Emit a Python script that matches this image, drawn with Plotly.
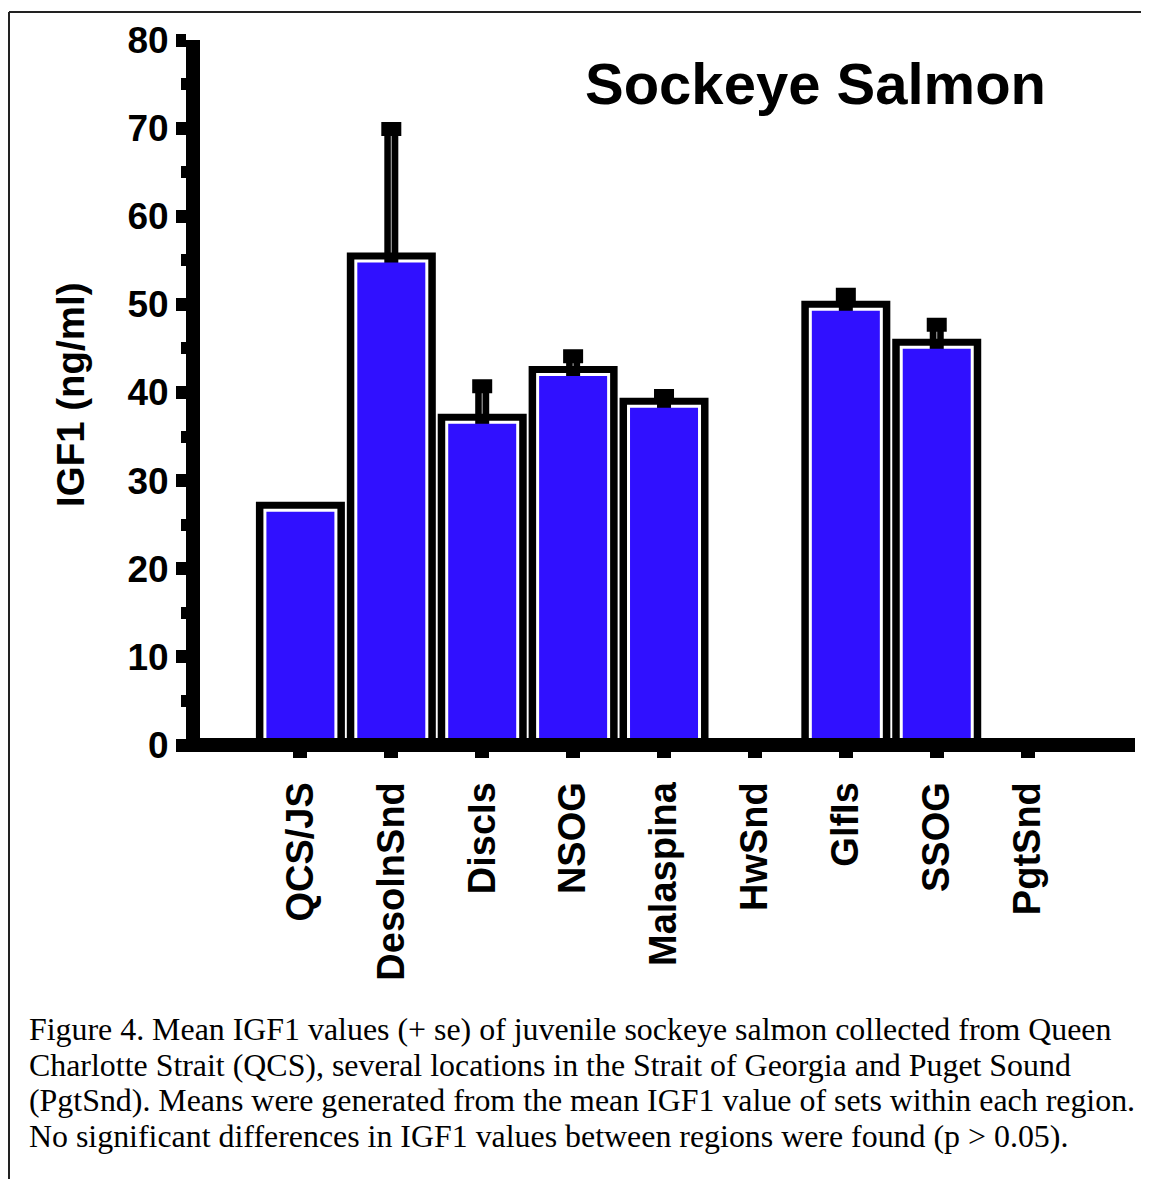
import plotly.graph_objects as go

# ---------------- data ----------------
categories = ["QCS/JS", "DesolnSnd", "DiscIs", "NSOG", "Malaspina",
              "HwSnd", "GlfIs", "SSOG", "PgtSnd"]
mean_igf1 = [27.6, 55.9, 37.6, 43.0, 39.4, None, 50.4, 46.1, None]
se_igf1 = [None, 14.0, 3.1, 1.1, 0.2, None, 0.7, 1.6, None]
y_tick_values = [0, 10, 20, 30, 40, 50, 60, 70, 80]
y_tick_labels = ["0", "10", "20", "30", "40", "50", "60", "70", "80"]

title_text = "Sockeye Salmon"
y_title = "IGF1 (ng/ml)"
caption_lines = [
    "Figure 4. Mean IGF1 values (+ se) of juvenile sockeye salmon collected from Queen",
    "Charlotte Strait (QCS), several locations in the Strait of Georgia and Puget Sound",
    "(PgtSnd). Means were generated from the mean IGF1 value of sets within each region.",
    "No significant differences in IGF1 values between regions were found (p > 0.05).",
]

# ---------------- layout geometry (screen pixels) ----------------
OFF = 8                      # default page body margin
SW, SH = 1149, 1179          # screen size
W, H = SW - OFF, SH - OFF    # figure size
L, R, T, B = 200, 1135, 40, 745   # plot area in screen pixels
PW, PH = R - L, B - T
Y_MAX = 80
UNIT = PH / Y_MAX            # px per data unit
BLUE = "#3010ff"
SANS = "Liberation Sans"
SERIF = "Liberation Serif"


def px_x(p):
    return (p - L) / PW


def px_y(p):
    return (B - p) / PH


def shifted(vals, px):
    return [None if v is None else v - px / UNIT for v in vals]


fig = go.Figure()

# outer black frame of each bar
fig.add_trace(go.Bar(x=categories, y=mean_igf1, width=0.979,
                     marker=dict(color="black", line=dict(width=0)),
                     hoverinfo="skip", showlegend=False))
# white inner ring
fig.add_trace(go.Bar(x=categories, y=shifted(mean_igf1, 7), width=0.814,
                     marker=dict(color="white", line=dict(width=0)),
                     hoverinfo="skip", showlegend=False))
# error bars (+ se), drawn before the blue fill so their lower end is hidden
err_x = [c for c, s in zip(categories, se_igf1) if s is not None]
err_y = [m for m, s in zip(mean_igf1, se_igf1) if s is not None]
err_v = [s for s in se_igf1 if s is not None]
fig.add_trace(go.Bar(x=err_x, y=err_y, width=0.5,
                     marker=dict(color="rgba(0,0,0,0)", line=dict(width=0)),
                     error_y=dict(type="data", symmetric=False, array=err_v,
                                  arrayminus=[3 for _ in err_v],
                                  color="black", thickness=14, width=10),
                     hoverinfo="skip", showlegend=False))
# blue fill
fig.add_trace(go.Bar(x=categories, y=shifted(mean_igf1, 10), width=0.748,
                     marker=dict(color=BLUE, line=dict(width=0)),
                     hoverinfo="skip", showlegend=False))
# thin light centre line inside the error-bar stems
g_x = [c for c, s in zip(categories, se_igf1) if s is not None and s > 1]
g_y = [m for m, s in zip(mean_igf1, se_igf1) if s is not None and s > 1]
g_v = [s - 7 / UNIT for s in se_igf1 if s is not None and s > 1]
fig.add_trace(go.Scatter(x=g_x, y=g_y, mode="markers",
                         marker=dict(size=1, opacity=0),
                         error_y=dict(type="data", symmetric=False, array=g_v,
                                      arrayminus=[0 for _ in g_v],
                                      color="#9a9a9a", thickness=1.2, width=0),
                         hoverinfo="skip", showlegend=False))

# x axis line (thick) along the baseline (paper y = 0 is the value 0)
shapes = [
    dict(type="line", xref="paper", yref="paper", x0=px_x(186), x1=1,
         y0=0, y1=0, line=dict(color="black", width=14), layer="above"),
    # page frame (top and left edges)
    dict(type="line", xref="paper", yref="paper", x0=px_x(9), x1=px_x(1160),
         y0=px_y(12), y1=px_y(12), line=dict(color="#222", width=2)),
    dict(type="line", xref="paper", yref="paper", x0=px_x(9), x1=px_x(9),
         y0=px_y(12), y1=px_y(1190), line=dict(color="#222", width=2)),
]

annotations = [
    dict(text=title_text, xref="paper", yref="paper", x=px_x(815), y=px_y(84),
         xanchor="center", yanchor="middle", showarrow=False,
         font=dict(family=SANS, size=58, color="black", weight="bold")),
    dict(text=y_title, xref="paper", yref="paper", x=px_x(71), y=px_y(395),
         xanchor="center", yanchor="middle", textangle=-90, showarrow=False,
         font=dict(family=SANS, size=38.5, color="black", weight="bold")),
]
baselines = [1039, 1075, 1110, 1146]
for line, bl in zip(caption_lines, baselines):
    annotations.append(dict(text=line, xref="paper", yref="paper",
                            x=px_x(27), y=px_y(bl - 10), xanchor="left",
                            yanchor="middle", showarrow=False,
                            font=dict(family=SERIF, size=31.9, color="black")))

fig.update_layout(
    width=W, height=H, template="none",
    margin=dict(l=L - OFF, r=W - (R - OFF), t=T - OFF, b=H - (B - OFF), pad=0),
    paper_bgcolor="white", plot_bgcolor="white",
    barmode="overlay", showlegend=False,
    shapes=shapes, annotations=annotations,
    xaxis=dict(type="category", categoryorder="array", categoryarray=categories,
               range=[-1.1045, 9.181], showline=False, showgrid=False,
               zeroline=False, ticks="outside", ticklen=12, tickwidth=14,
               tickcolor="black", tickangle=-90, automargin=False,
               ticklabelstandoff=9,
               tickfont=dict(family=SANS, size=38, color="black", weight="bold")),
    yaxis=dict(range=[0, Y_MAX], tickmode="array", tickvals=y_tick_values,
               ticktext=y_tick_labels, showline=True, linewidth=14,
               linecolor="black", showgrid=False, zeroline=False,
               ticks="outside", ticklen=10, tickwidth=13, tickcolor="black",
               automargin=False,
               minor=dict(dtick=5, tick0=0, ticks="outside", ticklen=5,
                          tickwidth=12, tickcolor="black", showgrid=False),
               tickfont=dict(family=SANS, size=37, color="black", weight="bold")),
)

fig.write_html("out.html")
